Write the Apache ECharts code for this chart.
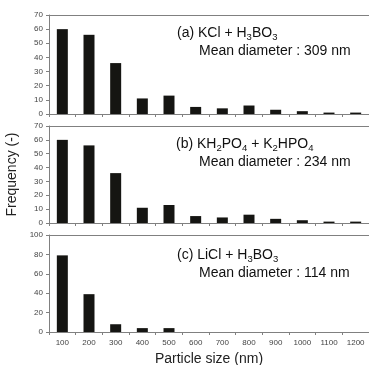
<!DOCTYPE html>
<html>
<head>
<meta charset="utf-8">
<script src="https://cdn.jsdelivr.net/npm/echarts@6/dist/echarts.min.js"></script>
<style>
  html, body { margin: 0; padding: 0; background: #fff; }
  #chart { width: 369px; height: 365px; }
</style>
</head>
<body>
<div id="chart"></div>
<script>
// particle size bins (nm)
const categories = ['100', '200', '300', '400', '500', '600', '700', '800', '900', '1000', '1100', '1200'];
// frequency per panel
const freqA = [60, 56, 36, 11, 13, 5, 4, 6, 3, 2, 1, 1];
const freqB = [60, 56, 36, 11, 13, 5, 4, 6, 3, 2, 1, 1];
const freqC = [79, 39, 8, 4, 4, 0, 0, 0, 0, 0, 0, 0];
// y scales
const yMaxAB = 70, yStepAB = 10;
const yMaxC = 100, yStepC = 20;

const FONT = '"Liberation Sans", Arial, sans-serif';
const axisGray = '#808080';
const barColor = '#151512';

const grids = [
  {left: 49, right: 0, top: 15, height: 99, outerBoundsMode: 'none'},
  {left: 49, right: 0, top: 126, height: 97, outerBoundsMode: 'none'},
  {left: 49, right: 0, top: 235, height: 97, outerBoundsMode: 'none'}
];

function bottomAxis(i, showLabel) {
  return {
    type: 'category', gridIndex: i, data: categories, position: 'bottom',
    axisLine: {lineStyle: {color: axisGray, width: 1}},
    axisTick: {show: true, length: 3, interval: 0, lineStyle: {color: axisGray}},
    axisLabel: {show: showLabel, interval: 0, margin: 7, fontSize: 8, color: '#444', fontFamily: FONT},
    splitLine: {show: false},
    name: showLabel ? 'Particle size (nm)' : '',
    nameLocation: 'middle', nameGap: 20,
    nameTextStyle: {fontSize: 14, color: '#222', fontFamily: FONT}
  };
}
function topAxis(i) {
  return {
    type: 'category', gridIndex: i, data: categories, position: 'top',
    axisLine: {lineStyle: {color: axisGray, width: 1}},
    axisTick: {show: false}, axisLabel: {show: false}, splitLine: {show: false}
  };
}
function leftAxis(i, max, step, name) {
  return {
    type: 'value', gridIndex: i, min: 0, max: max, interval: step,
    axisLine: {show: true, lineStyle: {color: axisGray, width: 1}},
    axisTick: {show: true, length: 3, lineStyle: {color: axisGray}},
    axisLabel: {fontSize: 8, color: '#444', margin: 6, fontFamily: FONT},
    splitLine: {show: false},
    name: name || '', nameLocation: 'middle', nameGap: 30,
    nameTextStyle: {fontSize: 14, color: '#222', fontFamily: FONT}
  };
}

const subRich = {
  s: {fontSize: 9.5, verticalAlign: 'bottom', lineHeight: 18, color: '#111', fontFamily: FONT}
};
function label(text, left, top) {
  return {
    text: text, left: left, top: top, padding: 0,
    textStyle: {fontSize: 14, fontWeight: 'normal', color: '#111', fontFamily: FONT, lineHeight: 18, rich: subRich}
  };
}

const chart = echarts.init(document.getElementById('chart'));
chart.setOption({
  animation: false,
  title: [
    label('(a) KCl + H{s|3}BO{s|3}', 177, 24),
    label('Mean diameter : 309 nm', 199, 42),
    label('(b) KH{s|2}PO{s|4} + K{s|2}HPO{s|4}', 176, 135),
    label('Mean diameter : 234 nm', 199, 153),
    label('(c) LiCl + H{s|3}BO{s|3}', 177, 246),
    label('Mean diameter : 114 nm', 199, 264)
  ],
  grid: grids,
  xAxis: [bottomAxis(0, false), topAxis(0), bottomAxis(1, false), topAxis(1), bottomAxis(2, true), topAxis(2)],
  yAxis: [
    leftAxis(0, yMaxAB, yStepAB),
    leftAxis(1, yMaxAB, yStepAB, 'Frequency (-)'),
    leftAxis(2, yMaxC, yStepC)
  ],
  series: [
    {type: 'bar', xAxisIndex: 0, yAxisIndex: 0, data: freqA, barWidth: 11, itemStyle: {color: barColor}},
    {type: 'bar', xAxisIndex: 2, yAxisIndex: 1, data: freqB, barWidth: 11, itemStyle: {color: barColor}},
    {type: 'bar', xAxisIndex: 4, yAxisIndex: 2, data: freqC, barWidth: 11, itemStyle: {color: barColor}}
  ]
});
</script>
</body>
</html>
